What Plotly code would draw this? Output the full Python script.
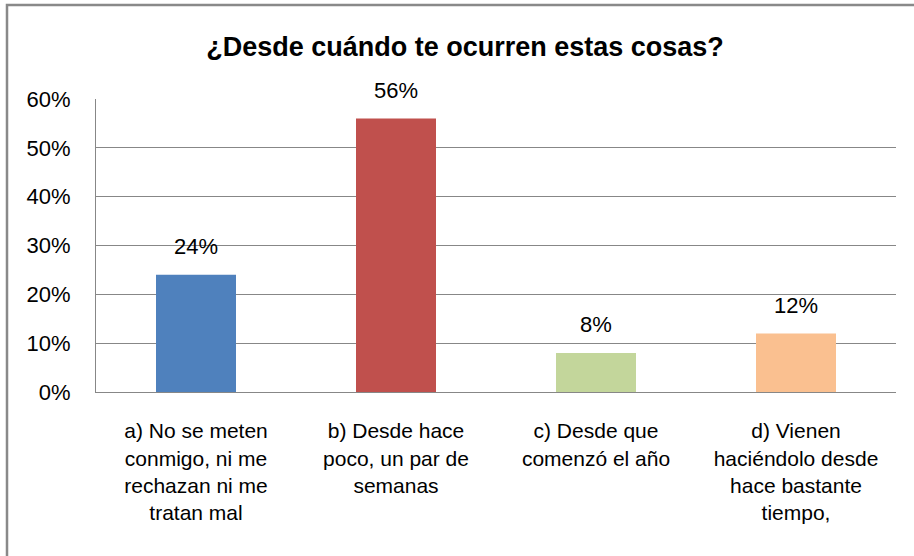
import plotly.graph_objects as go

categories = [
    "a) No se meten<br>conmigo, ni me<br>rechazan ni me<br>tratan mal",
    "b) Desde hace<br>poco, un par de<br>semanas",
    "c) Desde que<br>comenzó el año",
    "d) Vienen<br>haciéndolo desde<br>hace bastante<br>tiempo,",
]
values = [0.24, 0.56, 0.08, 0.12]
labels = ["24%", "56%", "8%", "12%"]
colors = ["#4F81BD", "#C0504D", "#C3D69B", "#FAC090"]

FONT = "Liberation Sans, Arial, sans-serif"

fig = go.Figure(
    go.Bar(
        x=categories,
        y=values,
        marker=dict(color=colors, line=dict(width=0)),
        width=0.4,
        hoverinfo="x+y",
    )
)

annotations = [
    dict(
        x=c,
        y=v,
        xref="x",
        yref="y",
        text=t,
        showarrow=False,
        yanchor="middle",
        yshift=28,
        font=dict(size=22, color="#000000", family=FONT),
    )
    for c, v, t in zip(categories, values, labels)
]

fig.update_layout(
    width=914,
    height=556,
    margin=dict(l=96, r=18, t=99, b=164, autoexpand=False),
    paper_bgcolor="white",
    plot_bgcolor="white",
    showlegend=False,
    title=dict(
        text="<b>¿Desde cuándo te ocurren estas cosas?</b>",
        x=(465 / 914),
        xanchor="center",
        y=1 - 47 / 556,
        yanchor="middle",
        font=dict(size=27, color="#000000", family=FONT),
    ),
    font=dict(family=FONT, color="#000000"),
    annotations=annotations,
    shapes=[
        dict(
            type="rect",
            xref="paper",
            yref="paper",
            x0=(7 - 96) / 800,
            x1=1.2,
            y0=-0.7,
            y1=(392 - 5) / 293,
            line=dict(color="#898989", width=2.5),
            fillcolor="rgba(0,0,0,0)",
            layer="below",
        )
    ],
)

fig.update_yaxes(
    range=[0, 0.6],
    dtick=0.1,
    tickformat=".0%",
    showgrid=True,
    gridcolor="#878787",
    gridwidth=1,
    showline=True,
    linecolor="#878787",
    linewidth=1,
    zeroline=False,
    ticks="",
    automargin=False,
    ticklabelstandoff=20,
    tickfont=dict(size=22, family=FONT, color="#000000"),
)
fig.update_xaxes(
    showline=True,
    linecolor="#878787",
    linewidth=1,
    ticks="",
    automargin=False,
    ticklabelstandoff=20,
    tickfont=dict(size=21, family=FONT, color="#000000"),
    tickangle=0,
)

fig.write_html(
    "out.html",
    config={"displayModeBar": False},
    post_script="document.body.style.margin='0px';document.body.style.overflow='hidden';",
)
